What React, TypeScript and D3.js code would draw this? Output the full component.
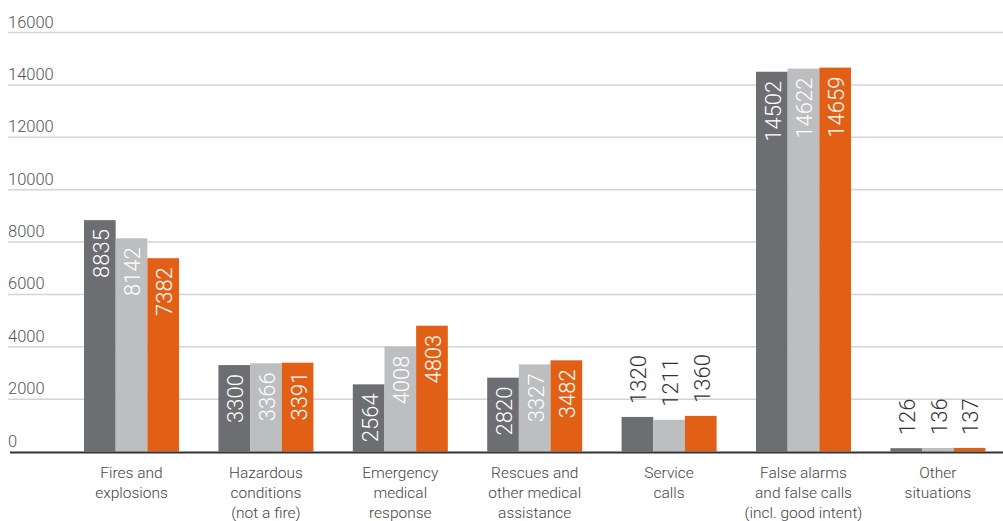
import React from "react";
import * as d3 from "d3";

const categories: string[][] = [
  ["Fires and", "explosions"],
  ["Hazardous", "conditions", "(not a fire)"],
  ["Emergency", "medical", "response"],
  ["Rescues and", "other medical", "assistance"],
  ["Service", "calls"],
  ["False alarms", "and false calls", "(incl. good intent)"],
  ["Other", "situations"],
];
const series = ["s1", "s2", "s3"];
const series1 = [8835, 3300, 2564, 2820, 1320, 14502, 126];
const series2 = [8142, 3366, 4008, 3327, 1211, 14622, 136];
const series3 = [7382, 3391, 4803, 3482, 1360, 14659, 137];
const yTicks = [0, 2000, 4000, 6000, 8000, 10000, 12000, 14000, 16000];
const colors = ["#6d6e71", "#bcbec0", "#e25f16"];

const W = 1003;
const H = 521;
const FONT = "Roboto, 'Liberation Sans', Arial, sans-serif";

export default function App() {
  const values = [series1, series2, series3];
  const y = d3.scaleLinear().domain([0, 16000]).range([451.5, 32.5]);
  const x0 = d3
    .scaleBand<number>()
    .domain(d3.range(categories.length))
    .range([66.4, 1003])
    .paddingInner(0.293)
    .paddingOuter(0.131);
  const x1 = d3.scaleBand<string>().domain(series).range([0, x0.bandwidth()]).padding(0);
  const labelFs = 22;
  const labelLen = (v: number) => String(v).length * 0.56 * labelFs;

  return (
    <svg width={W} height={H} style={{ position: "absolute", left: 0, top: 0, fontFamily: FONT }}>
      {yTicks.map((t) => (
        <g key={t}>
          {t > 0 && (
            <line x1={8} x2={W} y1={y(t)} y2={y(t)} stroke="#d4d4d4" strokeWidth={1.5} />
          )}
          <text x={8} y={y(t) - 5} fontSize={16.5} fill="#555" fontWeight={300}>
            {t}
          </text>
        </g>
      ))}
      {categories.map((_, ci) => (
        <g key={ci} transform={`translate(${x0(ci)},0)`}>
          {series.map((s, si) => {
            const v = values[si][ci];
            const bx = x1(s)!;
            const bw = x1.bandwidth();
            const top = y(v);
            const inside = y(0) - top > labelLen(v) + 10;
            const cx = bx + bw / 2;
            return (
              <g key={s}>
                <rect x={bx} y={top} width={bw} height={y(0) - top} fill={colors[si]} />
                {inside ? (
                  <text
                    transform={`translate(${cx + 1},${top + 9}) rotate(-90)`}
                    textAnchor="end"
                    dy="0.36em"
                    fontSize={labelFs}
                    fontWeight={300}
                    fill="#fff"
                  >
                    {v}
                  </text>
                ) : (
                  <text
                    transform={`translate(${cx + 1},${top - 13}) rotate(-90)`}
                    textAnchor="start"
                    dy="0.36em"
                    fontSize={labelFs}
                    fontWeight={300}
                    fill="#333"
                  >
                    {v}
                  </text>
                )}
              </g>
            );
          })}
          {categories[ci].map((line, li) => (
            <text
              key={li}
              x={x0.bandwidth() / 2}
              y={478 + li * 20}
              textAnchor="middle"
              fontSize={15.5}
              fontWeight={300}
              fill="#444"
            >
              {line}
            </text>
          ))}
        </g>
      ))}
      <line x1={10} x2={W} y1={y(0) + 1} y2={y(0) + 1} stroke="#333" strokeWidth={2} />
    </svg>
  );
}
